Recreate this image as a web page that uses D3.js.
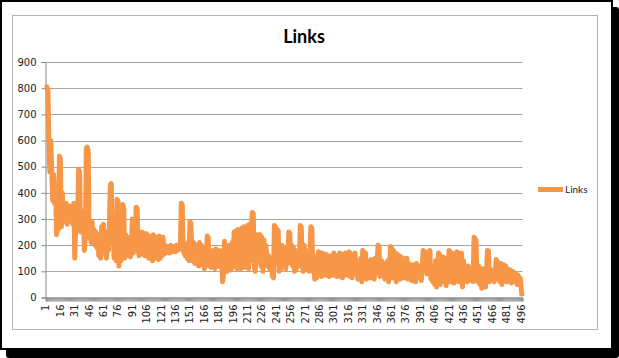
<!DOCTYPE html>
<html>
<head>
<meta charset="utf-8">
<script src="https://cdn.jsdelivr.net/npm/d3@7/dist/d3.min.js"></script>
<style>
  body { margin: 0; background: #fff; }
  svg { display: block; }
</style>
</head>
<body>
<div id="chart"></div>
<script>
const chartTitle = "Links";
const seriesName = "Links";
const yTicks = [0, 100, 200, 300, 400, 500, 600, 700, 800, 900];
const xTickLabels = [1, 16, 31, 46, 61, 76, 91, 106, 121, 136, 151, 166, 181, 196, 211, 226, 241,
  256, 271, 286, 301, 316, 331, 346, 361, 376, 391, 406, 421, 436, 451, 466, 481, 496];

// values, one per row number (1..497)
const links = [
  800, 805, 790, 600, 480, 600, 490, 370, 470, 360, 430,
  240, 380, 260, 540, 530, 270, 400,
  290, 350, 300, 360, 280, 330, 290, 350, 300, 340, 280, 360,
  150, 280, 260, 300, 490, 480, 250, 300, 260, 330, 180, 230,
  570, 575, 560, 230,
  270, 210, 290, 220, 260, 200, 250, 190, 240,
  160, 230, 150,
  270, 200, 280, 170, 250, 150, 240, 180, 255,
  430, 435, 220, 260, 150, 230, 140, 375, 370, 120, 250, 140, 210,
  355, 340, 150,
  240, 160, 230, 170, 220, 155, 210,
  300, 170, 295, 180, 345, 340, 190, 160,
  230, 165, 250, 170, 220, 160,
  245, 160, 240, 150, 230, 170, 235, 140, 240, 150,
  230, 160, 225, 145, 235, 150, 220, 160, 230, 165,
  200, 170, 195, 175, 190, 170, 200, 175, 195, 180,
  190, 175, 200, 180, 195, 185, 190,
  360, 355, 180, 170, 160, 200, 150, 210, 140,
  290, 285, 160, 140, 210, 130, 200, 150, 190,
  120, 210, 140, 200, 125, 190, 110, 180, 130,
  235, 230, 120,
  170, 115, 180, 120, 175, 110, 185, 120, 170, 125, 180, 115, 175,
  60, 90, 215,
  110, 200, 100, 190, 130, 200, 105, 210, 150, 250, 120, 255, 110, 260, 130,
  240, 110, 265, 120, 270, 115, 250, 130, 275, 110, 280, 140, 250,
  325, 320, 120, 100,
  160, 240, 150, 235, 240, 120, 230, 100, 220, 140, 200,
  165, 120, 160, 110, 150, 130, 80, 75,
  275, 270, 130, 260, 255, 100, 180, 110,
  200, 120, 170, 150, 110, 190, 130, 250, 245, 150, 200, 120,
  190, 100, 180, 110, 170, 120, 150,
  275, 270, 130, 100,
  200, 110, 180, 120, 150, 100, 160,
  270, 265, 100, 120, 70, 90, 75, 160,
  175, 90, 160, 80, 170, 95, 150, 85, 165, 90,
  145, 80, 160, 100, 140, 85, 170, 95, 150, 80, 160,
  90, 170, 80, 160, 75, 165, 90, 170, 85, 150,
  95, 175, 80, 160, 75, 165, 90, 170, 100, 140,
  70, 130, 85, 150, 60,
  180, 175, 90, 170, 70, 140,
  100, 130, 75, 145, 90, 120, 70, 150, 95, 130,
  200, 195, 80, 110,
  140, 85, 130, 70, 120, 90, 140, 60, 110,
  195, 190, 75, 180, 90, 170, 60,
  165, 80, 160, 70, 155, 90, 150, 75, 140, 85, 150, 70, 130, 80,
  120, 65, 125, 90, 110, 60, 130, 75, 115, 80, 120, 65, 110,
  180, 100, 175, 170, 90, 160, 110, 180, 70,
  120, 60, 110, 50, 140, 40, 90,
  170, 165, 50, 150, 60,
  155, 70, 150, 45, 140, 60,
  180, 175, 60, 170, 140, 55,
  130, 65, 175, 170,
  60, 165, 90, 170, 40, 140,
  110, 70, 100, 60, 120, 65, 95, 70, 110, 60,
  230, 225, 220, 80, 60,
  120, 50, 100, 35, 110, 60, 90, 40, 100,
  180, 178, 60,
  110, 70, 100, 80, 60, 90,
  145, 140, 70, 110,
  60, 130, 50, 120,
  125, 90, 120, 60, 110, 70, 100,
  105, 55, 100, 60, 95, 80,
  90, 50, 85, 60, 75, 40, 5
];
const categories = links.map((d, i) => i + 1);

const W = 619, H = 358;
const orange = "#f79646";
const plot = { left: 45.5, right: 522.5, top: 62, bottom: 297.5 };

const svg = d3.select("#chart").append("svg")
  .attr("width", W)
  .attr("height", H);

// frame with shadow
svg.append("rect")
  .attr("x", 6).attr("y", 7)
  .attr("width", W - 6).attr("height", H - 7)
  .attr("rx", 3)
  .attr("fill", "#000");
svg.append("rect")
  .attr("x", 1).attr("y", 1)
  .attr("width", 611).attr("height", 348)
  .attr("fill", "#fff")
  .attr("stroke", "#000")
  .attr("stroke-width", 2);

// chart area border
svg.append("rect")
  .attr("x", 12.5).attr("y", 15.5)
  .attr("width", 585).attr("height", 314)
  .attr("fill", "#fff")
  .attr("stroke", "#b4b4b4")
  .attr("stroke-width", 1);

const x = d3.scalePoint()
  .domain(categories)
  .range([plot.left, plot.right])
  .padding(0.5);

const y = d3.scaleLinear()
  .domain([0, 900])
  .range([plot.bottom, plot.top]);

// gridlines
svg.append("g")
  .selectAll("line")
  .data(yTicks.filter(d => d > 0))
  .join("line")
    .attr("x1", plot.left).attr("x2", plot.right)
    .attr("y1", d => Math.round(y(d)) + 0.5)
    .attr("y2", d => Math.round(y(d)) + 0.5)
    .attr("stroke", "#a6a6a6");

// y axis
const yAxisG = svg.append("g")
  .attr("transform", `translate(${plot.left},0)`)
  .call(d3.axisLeft(y).tickValues(yTicks).tickSize(4).tickPadding(5));
yAxisG.select(".domain").attr("stroke", "#868686");
yAxisG.selectAll(".tick line").attr("stroke", "#868686");
yAxisG.selectAll("text")
  .attr("font-family", "DejaVu Sans")
  .attr("font-size", "10px")
  .attr("fill", "#222");

// x axis: one tick per row, labels every 15
const xAxisG = svg.append("g")
  .attr("transform", `translate(0,${plot.bottom})`)
  .call(d3.axisBottom(x).tickSize(4).tickFormat(""));
xAxisG.select(".domain").attr("stroke", "#868686");
xAxisG.selectAll(".tick line").attr("stroke", "#8c8c8c").attr("stroke-width", 0.9);

svg.append("g")
  .selectAll("text")
  .data(xTickLabels)
  .join("text")
    .attr("transform", d => `translate(${x(d)},${plot.bottom + 7}) rotate(-90)`)
    .attr("text-anchor", "end")
    .attr("dy", "0.35em")
    .attr("font-family", "DejaVu Sans")
    .attr("font-size", "10px")
    .attr("fill", "#222")
    .text(d => d);

// series line
const line = d3.line()
  .x((d, i) => x(categories[i]))
  .y(d => y(d));

svg.append("path")
  .datum(links)
  .attr("fill", "none")
  .attr("stroke", orange)
  .attr("stroke-width", 5)
  .attr("stroke-linejoin", "round")
  .attr("d", line);

// title
svg.append("text")
  .attr("x", 304)
  .attr("y", 43)
  .attr("text-anchor", "middle")
  .attr("font-family", "Lato")
  .attr("font-weight", "bold")
  .attr("font-size", "18px")
  .attr("fill", "#000")
  .text(chartTitle);

// legend
const legend = svg.append("g").attr("transform", "translate(538,189.5)");
legend.append("line")
  .attr("x1", 0).attr("x2", 25)
  .attr("stroke", orange)
  .attr("stroke-width", 5);
legend.append("text")
  .attr("x", 27)
  .attr("dy", "0.35em")
  .attr("font-family", "Lato")
  .attr("font-size", "10px")
  .attr("fill", "#222")
  .text(seriesName);
</script>
</body>
</html>
